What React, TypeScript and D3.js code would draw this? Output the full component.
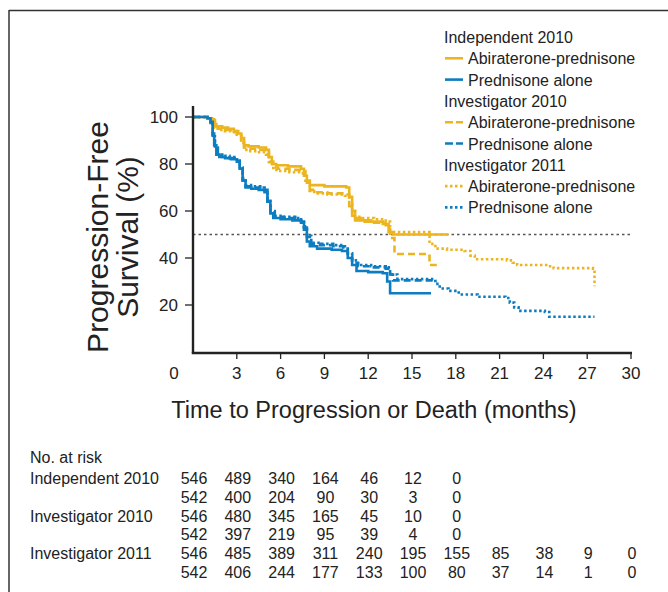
import React from 'react';
import * as d3 from 'd3';

// Kaplan-Meier step points (months, % progression-free)
const indepAbiT = [0, 1.0, 1.3, 1.45, 1.6, 2.0, 2.4, 2.8, 3.1, 3.3, 3.5, 3.8, 4.5, 5.0, 5.2, 5.4, 5.7, 6.5, 7.4, 7.6, 7.8, 8.0, 9.0, 10.5, 10.7, 10.9, 11.1, 11.5, 12.2, 13.0, 13.4, 13.7, 17.5];
const indepAbiV = [100, 99.5, 99, 97, 96, 95.5, 95, 94, 93, 91, 88, 87.5, 87, 86, 83, 80, 79.5, 79, 78, 75, 72, 71, 70.5, 70, 66, 60, 57, 56, 55.5, 54.5, 51, 50, 50];

const indepPredT = [0, 1.0, 1.2, 1.35, 1.45, 1.6, 1.8, 2.2, 2.6, 3.0, 3.2, 3.4, 3.6, 4.0, 4.5, 4.9, 5.1, 5.3, 5.5, 6.0, 6.8, 7.4, 7.6, 7.8, 8.0, 8.5, 9.5, 10.2, 10.6, 10.9, 11.2, 12.0, 13.0, 13.3, 13.5, 16.3];
const indepPredV = [100, 99.5, 98, 93, 88, 84, 83, 82.5, 82, 81, 78, 73, 70, 69.5, 69, 68, 64, 59, 57, 56.5, 56, 55, 52, 47, 45, 44, 43.5, 43, 40, 37, 34.5, 34, 33.5, 30, 25, 25];

const inv10AbiT = [0, 1.0, 1.3, 1.5, 1.7, 2.2, 2.6, 3.0, 3.3, 3.5, 3.8, 4.4, 5.0, 5.2, 5.5, 5.8, 6.6, 7.4, 7.7, 8.0, 8.3, 9.2, 10.4, 10.7, 10.9, 11.1, 11.6, 12.4, 13.2, 13.5, 13.8, 16.2, 16.7];
const inv10AbiV = [100, 99.5, 98.5, 96, 95, 94.5, 94, 93, 90, 87, 86.5, 86, 85, 81, 78.5, 78, 77.5, 77, 73, 69, 68, 67.5, 67, 62, 58, 56, 55.5, 55, 54, 48.5, 41.7, 37, 37];

const inv10PredT = [0, 1.0, 1.2, 1.35, 1.5, 1.7, 2.0, 2.5, 3.0, 3.2, 3.4, 3.6, 4.1, 4.6, 4.9, 5.1, 5.3, 5.6, 6.2, 7.0, 7.4, 7.6, 7.8, 8.1, 8.7, 9.6, 10.3, 10.6, 10.9, 11.3, 12.2, 13.2, 13.5, 13.7, 16.7];
const inv10PredV = [100, 99.5, 97.5, 92, 87, 83.5, 83, 82.5, 81.5, 78, 73, 70.5, 70, 69.5, 68.5, 64, 59.5, 57.5, 57, 56.5, 55.5, 53, 49, 46, 45.5, 45, 44.5, 41, 38, 36.5, 36, 35.5, 33, 30.5, 30.5];

const inv11AbiT = [0, 1.0, 1.3, 1.5, 1.7, 2.2, 2.6, 3.0, 3.3, 3.5, 3.8, 4.4, 5.0, 5.2, 5.5, 5.8, 6.6, 7.4, 7.7, 8.0, 8.3, 9.2, 10.4, 10.7, 10.9, 11.1, 11.6, 12.4, 13.2, 13.5, 16.2, 16.6, 17.4, 18.6, 19.0, 19.3, 21.5, 21.9, 22.2, 24.3, 24.7, 27.4, 27.5];
const inv11AbiV = [100, 99.5, 98.5, 95.5, 94.5, 94, 93.5, 92.5, 89, 86, 85.5, 85, 84, 80, 77.5, 77, 76.5, 76, 72, 68.5, 67.5, 67, 66.5, 63, 60, 57.5, 57, 56.5, 55.5, 51, 46, 44, 43.5, 43, 41, 39.5, 39, 38, 37, 36.5, 35.7, 35.5, 28];

const inv11PredT = [0, 1.0, 1.2, 1.35, 1.5, 1.7, 2.0, 2.5, 3.0, 3.2, 3.4, 3.6, 4.1, 4.6, 4.9, 5.1, 5.3, 5.6, 6.2, 7.0, 7.4, 7.6, 7.8, 8.1, 8.7, 9.6, 10.3, 10.6, 10.9, 11.3, 12.2, 13.2, 13.5, 14.0, 16.6, 16.9, 17.5, 18.2, 19.5, 21.4, 21.7, 22.0, 22.3, 24.1, 24.4, 27.5];
const inv11PredV = [100, 99.5, 97.5, 92.5, 87.5, 84, 83.5, 83, 82, 78.5, 74, 71, 70.5, 70, 69, 65, 60, 58, 57.5, 57, 56, 53.5, 49.5, 46.5, 46, 45.5, 45, 42, 39, 37, 36.5, 36, 33, 31, 29, 27, 26, 24.5, 23.5, 23, 21, 19, 17.5, 17, 15, 15];

const legendGroups = ['Independent 2010', 'Investigator 2010', 'Investigator 2011'];
const armNames = ['Abiraterone-prednisone', 'Prednisone alone'];

const xTicks = [3, 6, 9, 12, 15, 18, 21, 24, 27, 30];
const yTicks = [20, 40, 60, 80, 100];
const riskTimes = [0, 3, 6, 9, 12, 15, 18, 21, 24, 27, 30];
const riskLabels = ['Independent 2010', '', 'Investigator 2010', '', 'Investigator 2011', ''];
const riskIndepAbi = [546, 489, 340, 164, 46, 12, 0];
const riskIndepPred = [542, 400, 204, 90, 30, 3, 0];
const riskInv10Abi = [546, 480, 345, 165, 45, 10, 0];
const riskInv10Pred = [542, 397, 219, 95, 39, 4, 0];
const riskInv11Abi = [546, 485, 389, 311, 240, 195, 155, 85, 38, 9, 0];
const riskInv11Pred = [542, 406, 244, 177, 133, 100, 80, 37, 14, 1, 0];

const YELLOW = '#ecb51f';
const BLUE = '#0d7cc1';
const FONT = '"Liberation Sans", Arial, Helvetica, sans-serif';

const DASH: Record<string, string> = { solid: 'none', dashed: '7,4', dotted: '2.5,2.5' };

const series = [
  { t: inv11AbiT, v: inv11AbiV, color: YELLOW, style: 'dotted' },
  { t: inv11PredT, v: inv11PredV, color: BLUE, style: 'dotted' },
  { t: inv10AbiT, v: inv10AbiV, color: YELLOW, style: 'dashed' },
  { t: inv10PredT, v: inv10PredV, color: BLUE, style: 'dashed' },
  { t: indepAbiT, v: indepAbiV, color: YELLOW, style: 'solid' },
  { t: indepPredT, v: indepPredV, color: BLUE, style: 'solid' },
];

const riskRows = [riskIndepAbi, riskIndepPred, riskInv10Abi, riskInv10Pred, riskInv11Abi, riskInv11Pred];

export default function App() {
  const x = d3.scaleLinear().domain([0, 30]).range([193, 631]);
  const y = d3.scaleLinear().domain([0, 100]).range([352, 117]);

  const line = d3.line<[number, number]>()
    .x(d => x(d[0]))
    .y(d => y(d[1]))
    .curve(d3.curveStepAfter);

  const axisColor = '#222';
  const styles = ['solid', 'dashed', 'dotted'];

  return (
    <svg width={668} height={592} style={{ position: 'absolute', left: 0, top: 0, background: '#fff' }} fontFamily={FONT}>
      {/* outer frame (top and left edges) */}
      <line x1={9} x2={668} y1={10.5} y2={10.5} stroke="#333" strokeWidth={1.5} />
      <line x1={9} x2={9} y1={10} y2={592} stroke="#333" strokeWidth={1.5} />

      {/* median reference line */}
      <line x1={x(0)} x2={x(30)} y1={y(50)} y2={y(50)} stroke="#555" strokeWidth={1.3} strokeDasharray="2.5,3" />

      {/* curves */}
      {series.map((s, i) => (
        <path
          key={i}
          d={line(s.t.map((t, j) => [t, s.v[j]] as [number, number])) || ''}
          fill="none"
          stroke={s.color}
          strokeWidth={2.6}
          strokeDasharray={DASH[s.style]}
        />
      ))}

      {/* axes */}
      <line x1={x(0)} x2={x(0)} y1={106} y2={353.5} stroke={axisColor} strokeWidth={2.4} />
      <line x1={x(0) - 1.2} x2={x(30) + 1} y1={353} y2={353} stroke={axisColor} strokeWidth={2.4} />
      {yTicks.map(t => (
        <g key={t}>
          <line x1={x(0) - 8} x2={x(0)} y1={y(t)} y2={y(t)} stroke={axisColor} strokeWidth={1.3} />
          <text x={178} y={y(t) + 6} textAnchor="end" fontSize={17} fill="#222">{t}</text>
        </g>
      ))}
      {xTicks.map(t => (
        <g key={t}>
          <line x1={x(t)} x2={x(t)} y1={353} y2={359} stroke={axisColor} strokeWidth={1.3} />
          <text x={x(t)} y={379} textAnchor="middle" fontSize={17} fill="#222">{t}</text>
        </g>
      ))}
      <text x={174} y={379} textAnchor="middle" fontSize={17} fill="#222">0</text>

      {/* axis titles */}
      <text x={374} y={418} textAnchor="middle" fontSize={23.5} fill="#222">Time to Progression or Death (months)</text>
      <text transform="translate(108,237) rotate(-90)" textAnchor="middle" fontSize={30} fill="#222">
        <tspan x={0} dy={0}>Progression-Free</tspan>
        <tspan x={0} dy={30}>Survival (%)</tspan>
      </text>

      {/* legend */}
      {legendGroups.map((g, gi) => {
        const base = 43 + gi * 3 * 21.3;
        return (
          <g key={g}>
            <text x={444} y={base} fontSize={16} fill="#222">{g}</text>
            {armNames.map((a, ai) => {
              const by = base + (ai + 1) * 21.3;
              return (
                <g key={a}>
                  <line x1={445} x2={463} y1={by - 6} y2={by - 6} stroke={ai === 0 ? YELLOW : BLUE} strokeWidth={2.6}
                    strokeDasharray={styles[gi] === 'dashed' ? '8,3' : DASH[styles[gi]]} />
                  <text x={468} y={by} fontSize={16} fill="#222">{a}</text>
                </g>
              );
            })}
          </g>
        );
      })}

      {/* number at risk table */}
      <text x={30} y={463} fontSize={16} fill="#222">No. at risk</text>
      {riskRows.map((row, ri) => {
        const by = 484 + ri * 18.8;
        return (
          <g key={ri}>
            {riskLabels[ri] && <text x={30} y={by} fontSize={16} fill="#222">{riskLabels[ri]}</text>}
            {row.map((n, ci) => (
              <text key={ci} x={x(riskTimes[ci]) + 1} y={by} textAnchor="middle" fontSize={16} fill="#222">{n}</text>
            ))}
          </g>
        );
      })}
    </svg>
  );
}
